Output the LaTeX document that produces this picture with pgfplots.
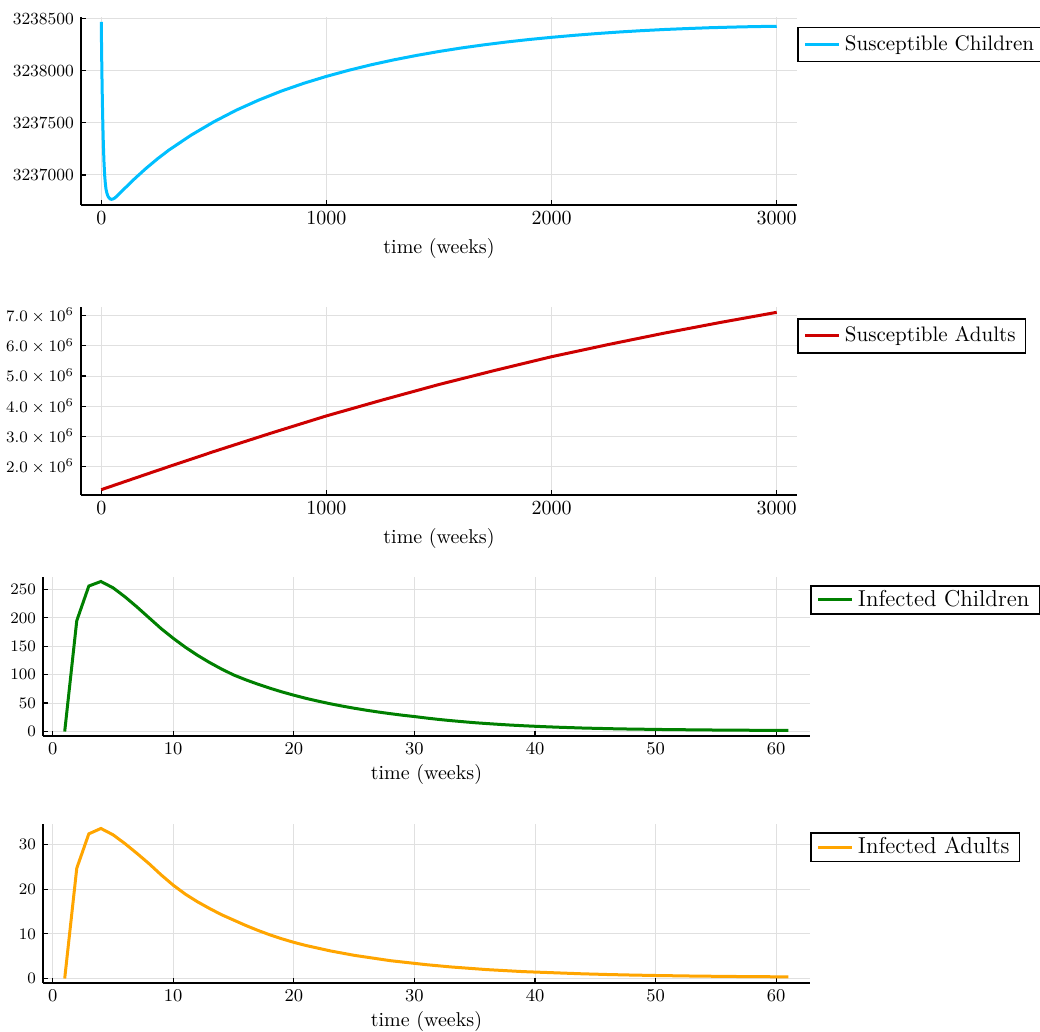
\documentclass[border=0pt]{standalone}
\usepackage{pgfplots}
\pgfplotsset{compat=1.18}
\definecolor{cSC}{RGB}{0,191,255}
\definecolor{cSA}{RGB}{205,0,0}
\definecolor{cIC}{RGB}{0,128,0}
\definecolor{cIA}{RGB}{255,165,0}
\pgfplotsset{
  jl/.style={
    scale only axis,
    axis x line=bottom, axis y line=left,
    axis line style={line width=1pt, black, -},
    grid=major, major grid style={black!12, line width=0.5pt},
    tick align=inside, major tick length=2.5pt,
    tick style={black, line width=0.6pt},
    scaled ticks=false,
    xlabel={time (weeks)},
    xlabel style={font=\fontsize{10}{12}\selectfont, yshift=0pt},
    yticklabel style={font=\fontsize{8.5}{10}\selectfont},
    xticklabel style={font=\fontsize{10}{12}\selectfont, /pgf/number format/1000 sep={}},
    legend style={draw=black, line width=0.8pt, fill=white,
      font=\fontsize{10.5}{12}\selectfont, anchor=north west,
      inner xsep=3pt, inner ysep=2pt},
    legend cell align=left,
    every axis plot/.append style={line width=1.5pt},
  },
  jlsmall/.style={
    xticklabel style={font=\fontsize{9.5}{11}\selectfont},
    xlabel style={yshift=2pt},
    legend style={font=\fontsize{11.5}{12}\selectfont, inner ysep=0.3pt, at={(1,0.95)}},
  }
}
\begin{document}
\begin{tikzpicture}
\useasboundingbox (0pt,0pt) rectangle (520pt,-516pt);
% Panel 1
\begin{axis}[jl, at={(40.5pt,-102.3pt)}, anchor=south west,
  width=358pt, height=94pt,
  xmin=-90, xmax=3090, ymin=3236715, ymax=3238520,
  xtick={0,1000,2000,3000},
  ytick={3237000,3237500,3238000,3238500},
  yticklabels={3237000,3237500,3238000,3238500},
  legend style={at={(1,0.946)}}]
\addplot[cSC] table {
t v
0 3238469
1 3238280
2 3238110
3 3237960
4 3237820
5 3237700
6 3237590
7 3237490
8 3237400
9 3237320
10 3237250
12 3237130
15 3237000
18 3236920
21 3236865
25 3236825
30 3236795
35 3236778
40 3236769
45 3236766
50 3236767
60 3236778
75 3236808
100 3236862
150 3236967
200 3237065
250 3237155
300 3237238
400 3237383
500 3237510
600 3237622
700 3237719
800 3237805
900 3237880
1000 3237946
1100 3238005
1200 3238058
1300 3238105
1400 3238147
1500 3238185
1600 3238219
1700 3238249
1800 3238276
1900 3238300
2000 3238321
2100 3238340
2200 3238357
2300 3238372
2400 3238385
2500 3238396
2600 3238405
2700 3238413
2800 3238419
2900 3238424
3000 3238427
};
\addlegendentry{Susceptible Children}
\end{axis}
% Panel 2
\begin{axis}[jl, at={(40.5pt,-247.5pt)}, anchor=south west,
  width=358pt, height=94pt,
  xmin=-90, xmax=3090, ymin=1061000, ymax=7286000,
  xtick={0,1000,2000,3000},
  ytick={2000000,3000000,4000000,5000000,6000000,7000000},
  yticklabels={$2.0\times10^{6}$,$3.0\times10^{6}$,$4.0\times10^{6}$,$5.0\times10^{6}$,$6.0\times10^{6}$,$7.0\times10^{6}$},
  legend style={at={(1,0.941)}}]
\addplot[cSA] table {
t v
0 1237000
250 1875000
500 2500000
750 3100000
1000 3680000
1250 4210000
1500 4720000
1750 5190000
2000 5640000
2250 6040000
2500 6420000
2750 6775000
3000 7110000
};
\addlegendentry{Susceptible Adults}
\end{axis}
% Panel 3
\begin{axis}[jl, jlsmall, at={(21.5pt,-368pt)}, anchor=south west,
  width=383.5pt, height=79.5pt,
  xmin=-0.8, xmax=62.8, ymin=-7.9, ymax=271.9,
  xtick={0,10,20,30,40,50,60},
  ytick={0,50,100,150,200,250}]
\addplot[cIC] table {
t v
1 0
2 195
3 256
4 264
5 253
6 237
7 219
8 200
9 181
10 164
11 148.4
12 134.3
13 121.6
14 110
15 99.6
16 91.1
17 83.4
18 76.3
19 69.8
20 63.9
21 58.4
22 53.5
23 48.9
24 44.8
25 41
26 37.5
27 34.3
28 31.4
29 28.7
30 26.3
31 23.7
32 21.3
33 19.2
34 17.3
35 15.5
36 14.0
37 12.6
38 11.3
39 10.2
40 9.2
41 8.3
42 7.5
43 6.8
44 6.1
45 5.6
46 5.1
47 4.6
48 4.3
49 4.0
50 3.7
51 3.4
52 3.2
53 3.0
54 2.8
55 2.6
56 2.4
57 2.3
58 2.2
59 2.1
60 2.0
61 1.9
};
\addlegendentry{Infected Children}
\end{axis}
% Panel 4
\begin{axis}[jl, jlsmall, at={(21.5pt,-491.5pt)}, anchor=south west,
  width=383.5pt, height=79.5pt,
  xmin=-0.8, xmax=62.8, ymin=-1.0, ymax=34.6,
  xtick={0,10,20,30,40,50,60},
  ytick={0,10,20,30}]
\addplot[cIA] table {
t v
1 0
2 24.7
3 32.4
4 33.6
5 32.2
6 30.2
7 28.0
8 25.7
9 23.2
10 20.9
11 18.9
12 17.2
13 15.7
14 14.3
15 13.1
16 11.9
17 10.8
18 9.8
19 8.9
20 8.1
21 7.4
22 6.8
23 6.2
24 5.7
25 5.2
26 4.8
27 4.4
28 4.0
29 3.7
30 3.4
31 3.1
32 2.85
33 2.6
34 2.4
35 2.2
36 2.0
37 1.85
38 1.7
39 1.55
40 1.45
41 1.35
42 1.25
43 1.15
44 1.05
45 0.98
46 0.9
47 0.84
48 0.78
49 0.73
50 0.68
51 0.64
52 0.6
53 0.56
54 0.53
55 0.5
56 0.47
57 0.45
58 0.43
59 0.41
60 0.39
61 0.37
};
\addlegendentry{Infected Adults}
\end{axis}
\end{tikzpicture}
\end{document}
